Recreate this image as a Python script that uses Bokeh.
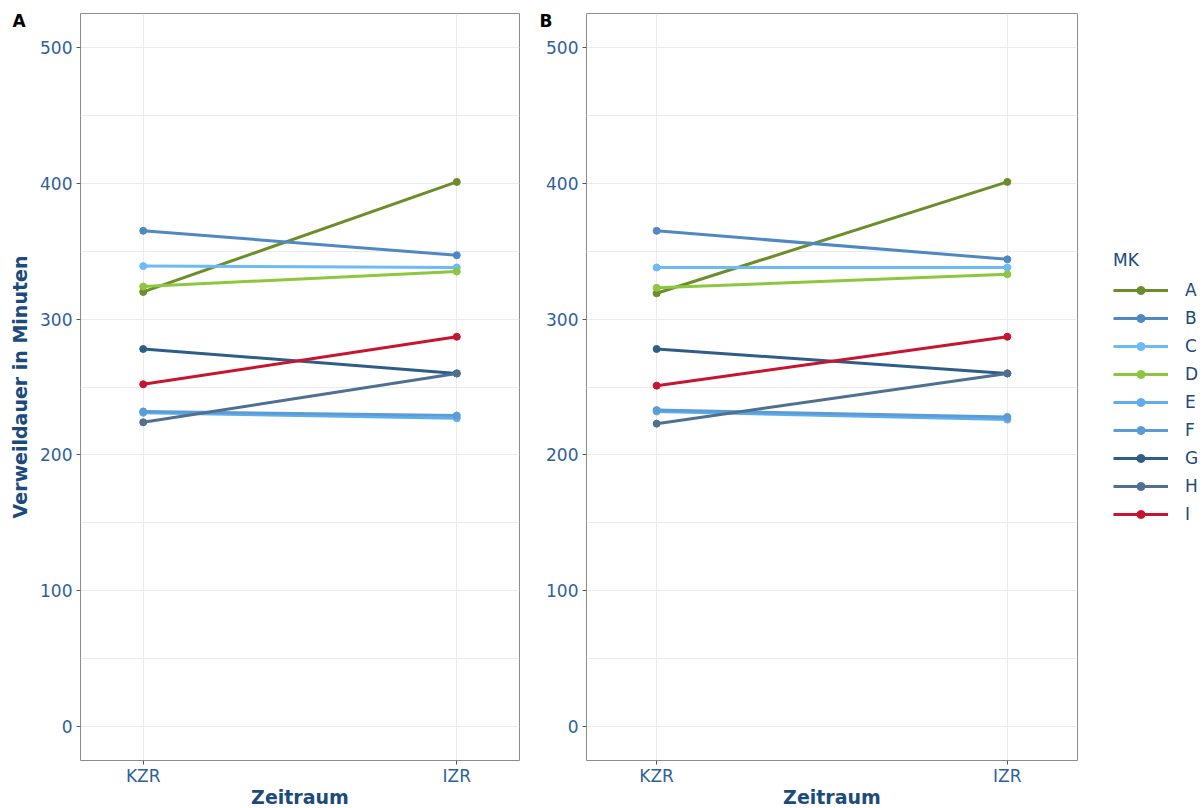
from bokeh.plotting import figure
from bokeh.layouts import row
from bokeh.models import (Range1d, FixedTicker, Title, Legend, LegendItem,
                          ColumnDataSource)
from bokeh.embed import file_html
from bokeh.resources import INLINE

# Periods on the x axis
categories = ["KZR", "IZR"]

# Groups (MK) and their colours
mk_names = ["A", "B", "C", "D", "E", "F", "G", "H", "I"]
mk_colors = ["#6b8e2a", "#4f88c2", "#6dbaf6", "#8dc63f", "#5eaeee",
             "#5b9bd6", "#2e5d88", "#4f7090", "#c8142f"]

# Length of stay in minutes per group, panel A (KZR, IZR)
stay_a_A = [320, 401]
stay_a_B = [365, 347]
stay_a_C = [339, 338]
stay_a_D = [324, 335]
stay_a_E = [231, 227]
stay_a_F = [232, 229]
stay_a_G = [278, 260]
stay_a_H = [224, 260]
stay_a_I = [252, 287]

# Length of stay in minutes per group, panel B (KZR, IZR)
stay_b_A = [319, 401]
stay_b_B = [365, 344]
stay_b_C = [338, 338]
stay_b_D = [323, 333]
stay_b_E = [232, 226]
stay_b_F = [233, 228]
stay_b_G = [278, 260]
stay_b_H = [223, 260]
stay_b_I = [251, 287]

y_ticks = [0, 100, 200, 300, 400, 500]

panel_a = [stay_a_A, stay_a_B, stay_a_C, stay_a_D, stay_a_E,
           stay_a_F, stay_a_G, stay_a_H, stay_a_I]
panel_b = [stay_b_A, stay_b_B, stay_b_C, stay_b_D, stay_b_E,
           stay_b_F, stay_b_G, stay_b_H, stay_b_I]

FONT = "DejaVu Sans"
TICK_COLOR = "#2f5f9a"
TITLE_COLOR = "#1b4a7c"
x_pos = [i + 1 for i in range(len(categories))]


def make_panel(values, frame_w, left, right, show_ytitle, tag, tag_offset):
    p = figure(frame_width=frame_w, frame_height=747,
               min_border_left=left, min_border_right=right,
               min_border_top=13, min_border_bottom=48,
               x_range=Range1d(0.8, 2.2), y_range=Range1d(-25, 525),
               output_backend="svg", toolbar_location=None)
    p.background_fill_color = "white"
    p.border_fill_color = "white"
    p.outline_line_color = "#8c8c8c"
    p.outline_line_width = 1

    renderers = []
    for name, vals, col in zip(mk_names, values, mk_colors):
        src = ColumnDataSource(dict(x=x_pos, y=vals))
        ln = p.line("x", "y", source=src, line_color=col, line_width=3)
        pt = p.scatter("x", "y", source=src, size=7, fill_color=col,
                       line_color=col)
        renderers.append((name, [ln, pt]))

    # axes
    p.xaxis.ticker = FixedTicker(ticks=x_pos)
    p.xaxis.major_label_overrides = {x: c for x, c in zip(x_pos, categories)}
    p.yaxis.ticker = FixedTicker(ticks=y_ticks)
    for ax in (p.xaxis[0], p.yaxis[0]):
        ax.axis_line_color = None
        ax.major_tick_out = 4
        ax.major_tick_in = 0
        ax.major_tick_line_color = "#555555"
        ax.minor_tick_line_color = None
        ax.major_label_text_font = FONT
        ax.major_label_text_font_size = "17px"
        ax.major_label_text_color = TICK_COLOR
        ax.axis_label_text_font = FONT
        ax.axis_label_text_font_size = "19px"
        ax.axis_label_text_font_style = "bold"
        ax.axis_label_text_color = TITLE_COLOR
    p.xaxis.major_label_standoff = 1
    p.xaxis.axis_label_standoff = -3
    p.yaxis.major_label_standoff = 4
    p.yaxis.axis_label_standoff = 6
    p.xaxis.axis_label = "Zeitraum"
    if show_ytitle:
        p.yaxis.axis_label = "Verweildauer in Minuten"

    # grid
    p.xgrid.ticker = FixedTicker(ticks=x_pos)
    p.ygrid.ticker = FixedTicker(ticks=list(range(0, 501, 50)))
    p.xgrid.grid_line_color = "#ebebeb"
    p.ygrid.grid_line_color = "#ebebeb"

    # panel tag, pulled down beside the top-left corner of the frame
    p.add_layout(Title(text=tag, align="left", offset=tag_offset,
                       standoff=-35, text_font=FONT, text_font_size="17px",
                       text_font_style="bold", text_color="black"), "above")
    return p, renderers


pA, _ = make_panel(panel_a, 439, 80, 14, True, "A", -68)
pB, rB = make_panel(panel_b, 491, 53, 126, False, "B", -47)

legend = Legend(items=[LegendItem(label=n, renderers=r) for n, r in rB],
                location="center_left", title="MK",
                title_text_font=FONT, title_text_font_size="17px",
                title_text_font_style="normal",
                title_text_color=TITLE_COLOR, title_standoff=10,
                label_text_font=FONT, label_text_font_size="17px",
                label_text_color=TITLE_COLOR,
                glyph_width=55, glyph_height=20, label_height=20,
                label_standoff=17, spacing=8, padding=0, margin=36,
                border_line_color=None, background_fill_alpha=0)
pB.add_layout(legend, "right")

layout = row(pA, pB)
open("out.html", "w").write(file_html(layout, INLINE))
